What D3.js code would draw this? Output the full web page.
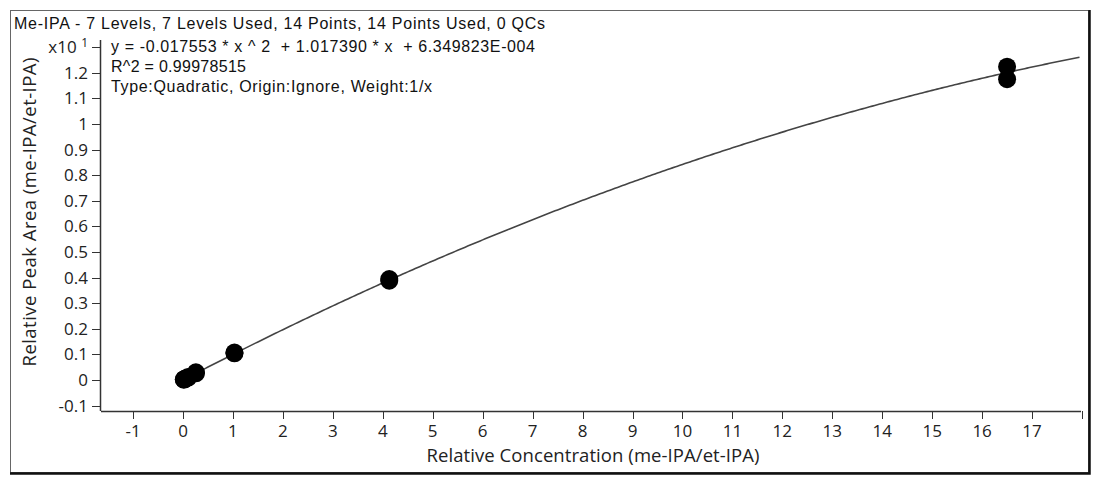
<!DOCTYPE html>
<html>
<head>
<meta charset="utf-8">
<script src="https://cdn.jsdelivr.net/npm/d3@7"></script>
<style>
  body { margin: 0; background: #fff; }
  .tick-label { font-family: "Open Sans", sans-serif; font-size: 17px; fill: #222; }
  .axis-title { font-family: "Open Sans", sans-serif; font-size: 18.5px; fill: #222; }
  .info { font-family: "Liberation Sans", Arial, sans-serif; font-size: 16px; fill: #111; }
</style>
</head>
<body>
<div id="chart"></div>
<script>
const width = 1100;
const height = 484;

// calibration levels (relative concentration) and measured relative peak area
const concentration = [0.0165, 0.0165, 0.0413, 0.0413, 0.103, 0.103, 0.258, 0.258, 1.03, 1.03, 4.13, 4.13, 16.5, 16.5];
const peakArea = [0.010, 0.025, 0.035, 0.05, 0.095, 0.12, 0.26, 0.30, 1.04, 1.07, 3.88, 3.94, 11.75, 12.24];

// quadratic fit y = a*x^2 + b*x + c (from the equation on the plot)
const fitCoef = [-0.017553, 1.017390, 6.349823E-004];
const fitRange = [0, 17.95];

const xTicks = [-1, 0, 1, 2, 3, 4, 5, 6, 7, 8, 9, 10, 11, 12, 13, 14, 15, 16, 17, 18];
const yTicks = [-1, 0, 1, 2, 3, 4, 5, 6, 7, 8, 9, 10, 11, 12, 13];

const titleText = "Me-IPA - 7 Levels, 7 Levels Used, 14 Points, 14 Points Used, 0 QCs";
const infoLines = [
  "y = -0.017553 * x ^ 2  + 1.017390 * x  + 6.349823E-004",
  "R^2 = 0.99978515",
  "Type:Quadratic, Origin:Ignore, Weight:1/x"
];
// widths the texts take in the picture
const infoWidths = [424, 135, 321];

const plot = { left: 101, right: 1081, top: 40, bottom: 411 };

let svg = d3.select("#chart")
  .append("svg")
  .attr("width", width)
  .attr("height", height);

// outer frame
svg.append("rect")
  .attr("x", 10.5).attr("y", 10.5)
  .attr("width", 1078).attr("height", 462)
  .attr("fill", "none")
  .attr("stroke", "#666")
  .attr("stroke-width", 1);
svg.append("path")
  .attr("d", "M1089.5,10 V473.5 H10")
  .attr("fill", "none")
  .attr("stroke", "#111")
  .attr("stroke-width", 2.5);

const x = d3.scaleLinear().domain([-1.642, 17.98]).range([plot.left, plot.right]);
const y = d3.scaleLinear().domain([-1.211, 13.28]).range([plot.bottom, plot.top]);

// x axis
svg.append("line")
  .attr("x1", plot.left).attr("x2", plot.right)
  .attr("y1", plot.bottom + 0.5).attr("y2", plot.bottom + 0.5)
  .attr("stroke", "#333").attr("stroke-width", 1.5);

svg.selectAll(".xtick")
  .data(xTicks)
  .enter().append("line")
  .attr("class", "xtick")
  .attr("x1", d => Math.round(x(d)) + 0.5)
  .attr("x2", d => Math.round(x(d)) + 0.5)
  .attr("y1", plot.bottom)
  .attr("y2", plot.bottom + 8)
  .attr("stroke", "#333");

svg.selectAll(".xlabel")
  .data(xTicks.filter(d => d < 18))
  .enter().append("text")
  .attr("class", "tick-label")
  .attr("x", d => x(d))
  .attr("y", 437)
  .attr("text-anchor", "middle")
  .text(d => d);

// y axis
svg.append("line")
  .attr("x1", plot.left - 0.5).attr("x2", plot.left - 0.5)
  .attr("y1", plot.top).attr("y2", plot.bottom)
  .attr("stroke", "#333").attr("stroke-width", 1.5);

svg.selectAll(".ytick")
  .data(yTicks)
  .enter().append("line")
  .attr("class", "ytick")
  .attr("x1", plot.left - 9)
  .attr("x2", plot.left)
  .attr("y1", d => Math.round(y(d)) + 0.5)
  .attr("y2", d => Math.round(y(d)) + 0.5)
  .attr("stroke", "#333");

svg.selectAll(".ylabel")
  .data(yTicks.filter(d => d < 13))
  .enter().append("text")
  .attr("class", "tick-label")
  .attr("x", plot.left - 13)
  .attr("y", d => y(d) + 6)
  .attr("text-anchor", "end")
  .text(d => +(d / 10).toFixed(1));

// exponent label at the top tick
let expo = svg.append("text")
  .attr("class", "tick-label")
  .attr("x", plot.left - 13)
  .attr("y", y(13) + 6)
  .attr("text-anchor", "end");
expo.append("tspan").text("x10 ");
expo.append("tspan").attr("font-size", "12px").attr("dy", -6).text("1");

// axis titles
svg.append("text")
  .attr("class", "axis-title")
  .attr("x", 593)
  .attr("y", 462)
  .attr("text-anchor", "middle")
  .attr("textLength", 333)
  .attr("lengthAdjust", "spacing")
  .text("Relative Concentration (me-IPA/et-IPA)");

svg.append("text")
  .attr("class", "axis-title")
  .attr("transform", "translate(36,212) rotate(-90)")
  .attr("text-anchor", "middle")
  .attr("textLength", 309)
  .attr("lengthAdjust", "spacing")
  .text("Relative Peak Area (me-IPA/et-IPA)");

// fitted curve
const fitX = d3.range(fitRange[0], fitRange[1], 0.05).concat([fitRange[1]]);
const line = d3.line()
  .x(d => x(d))
  .y(d => y(fitCoef[0] * d * d + fitCoef[1] * d + fitCoef[2]));

svg.append("path")
  .datum(fitX)
  .attr("d", line)
  .attr("fill", "none")
  .attr("stroke", "#444")
  .attr("stroke-width", 1.6);

// calibration points
svg.selectAll(".pt")
  .data(concentration)
  .enter().append("circle")
  .attr("class", "pt")
  .attr("cx", d => x(d))
  .attr("cy", (d, i) => y(peakArea[i]))
  .attr("r", 9)
  .attr("fill", "#000");

// title + equation text
svg.append("text")
  .attr("class", "info")
  .attr("x", 14)
  .attr("y", 29)
  .attr("textLength", 531)
  .attr("lengthAdjust", "spacing")
  .text(titleText);

svg.selectAll(".eq")
  .data(infoLines)
  .enter().append("text")
  .attr("class", "info")
  .attr("x", 111)
  .attr("y", (d, i) => 52 + i * 20)
  .attr("textLength", (d, i) => infoWidths[i])
  .attr("lengthAdjust", "spacing")
  .style("white-space", "pre")
  .text(d => d);
</script>
</body>
</html>
